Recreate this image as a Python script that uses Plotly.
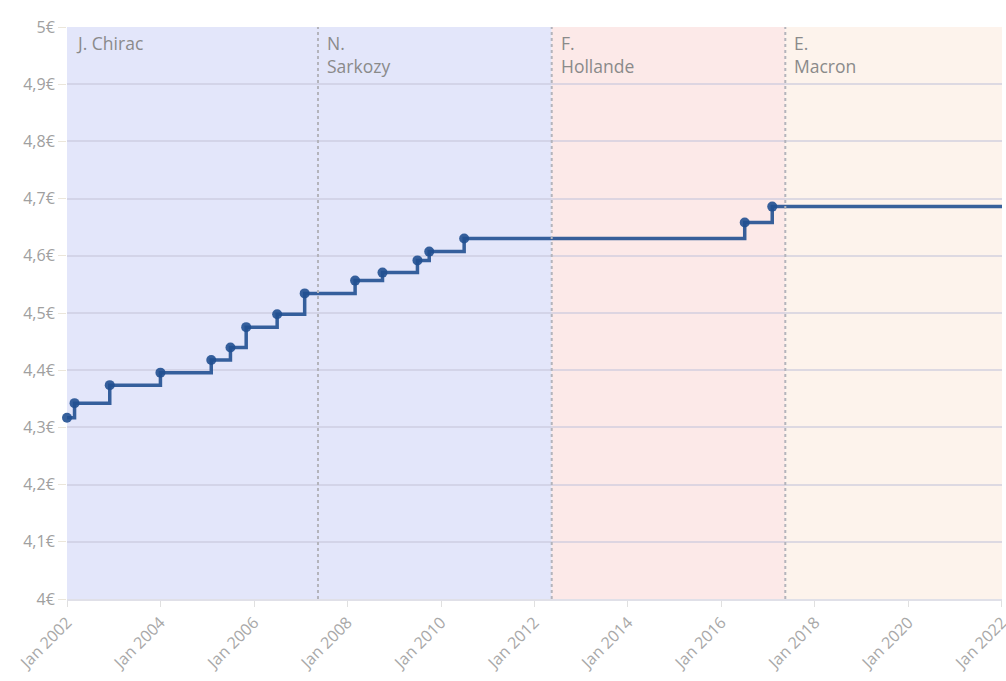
import plotly.graph_objects as go

# Valeur mensuelle du point d'indice (€)
dates = ["2002-01-01", "2002-03-01", "2002-12-01", "2004-01-01", "2005-02-01",
         "2005-07-01", "2005-11-01", "2006-07-01", "2007-02-01", "2008-03-01",
         "2008-10-01", "2009-07-01", "2009-10-01", "2010-07-01", "2016-07-01",
         "2017-02-01"]
values = [4.317, 4.3424, 4.3739, 4.3957, 4.4177, 4.4398, 4.4753, 4.4977, 4.5343,
          4.5566, 4.5706, 4.592, 4.6073, 4.6303, 4.6581, 4.6860]
end_date = "2022-01-01"

presidents = ["J. Chirac", "N.<br>Sarkozy", "F.<br>Hollande", "E.<br>Macron"]
pres_start = ["2002-01-01", "2007-05-16", "2012-05-15", "2017-05-14"]
pres_end = ["2007-05-16", "2012-05-15", "2017-05-14", "2022-01-01"]
pres_colors = ["#e3e6fa", "#e3e6fa", "#fce9e8", "#fdf3ec"]

y_ticks = [4.0, 4.1, 4.2, 4.3, 4.4, 4.5, 4.6, 4.7, 4.8, 4.9, 5.0]
y_labels = ["4€", "4,1€", "4,2€", "4,3€", "4,4€", "4,5€", "4,6€", "4,7€", "4,8€", "4,9€", "5€"]
x_ticks = ["2002-01-01", "2004-01-01", "2006-01-01", "2008-01-01", "2010-01-01",
           "2012-01-01", "2014-01-01", "2016-01-01", "2018-01-01", "2020-01-01",
           "2022-01-01"]
x_labels = ["Jan 2002", "Jan 2004", "Jan 2006", "Jan 2008", "Jan 2010", "Jan 2012",
            "Jan 2014", "Jan 2016", "Jan 2018", "Jan 2020", "Jan 2022"]

FONT = "Lato, 'Open Sans', sans-serif"
FONT2 = "'Open Sans', Lato, sans-serif"
LINE = "rgba(33,80,145,0.9)"

fig = go.Figure()

shapes = []
for s, e, c in zip(pres_start, pres_end, pres_colors):
    shapes.append(dict(type="rect", xref="x", yref="paper", x0=s, x1=e, y0=0, y1=1,
                       fillcolor=c, line_width=0, layer="below"))
for s in pres_start[1:]:
    shapes.append(dict(type="line", xref="x", yref="paper", x0=s, x1=s, y0=0, y1=1,
                       line=dict(color="#b4b4bc", width=2, dash="dot"), layer="above"))

fig.add_trace(go.Scatter(
    x=dates + [end_date], y=values + [values[-1]], mode="lines",
    line=dict(shape="hv", color=LINE, width=3.5), hoverinfo="skip", showlegend=False,
    cliponaxis=False))
fig.add_trace(go.Scatter(
    x=dates, y=values, mode="markers",
    marker=dict(color=LINE, size=10), showlegend=False, cliponaxis=False))

annotations = []
for name, s in zip(presidents, pres_start):
    annotations.append(dict(x=s, y=1, xref="x", yref="paper", text=name, showarrow=False,
                            xanchor="left", yanchor="top", xshift=7, yshift=-2, align="left",
                            font=dict(family=FONT2, size=17.5, color="#8a8a8a")))

fig.update_layout(
    width=1006, height=681,
    margin=dict(l=67, r=4, t=27, b=82, autoexpand=False),
    paper_bgcolor="white", plot_bgcolor="white",
    shapes=shapes, annotations=annotations,
    font=dict(family=FONT2, size=14, color="#a0a0a0"),
    showlegend=False,
    xaxis=dict(range=["2002-01-01", "2022-01-01 02:00"], tickvals=x_ticks, ticktext=x_labels,
               tickangle=-45, showgrid=False, zeroline=False, ticks="outside",
               ticklen=6, tickcolor="#e0e0e0", showline=True, linecolor="#e0e0e8",
               linewidth=2, tickfont=dict(family=FONT2, size=16, color="#a8a8a8"),
               automargin=False, ticklabeloverflow="allow"),
    yaxis=dict(range=[4.0, 5.0], tickvals=y_ticks, ticktext=y_labels, showgrid=True,
               gridcolor="rgba(200,200,220,0.6)", gridwidth=1.5, zeroline=False,
               ticks="outside", ticklen=8, tickcolor="#ebe6da", automargin=False,
               tickfont=dict(family=FONT2, size=16, color="#a0a0a0")),
)

fig.write_html("out.html", post_script="document.body.style.margin='0';",
               config={"displayModeBar": False})
